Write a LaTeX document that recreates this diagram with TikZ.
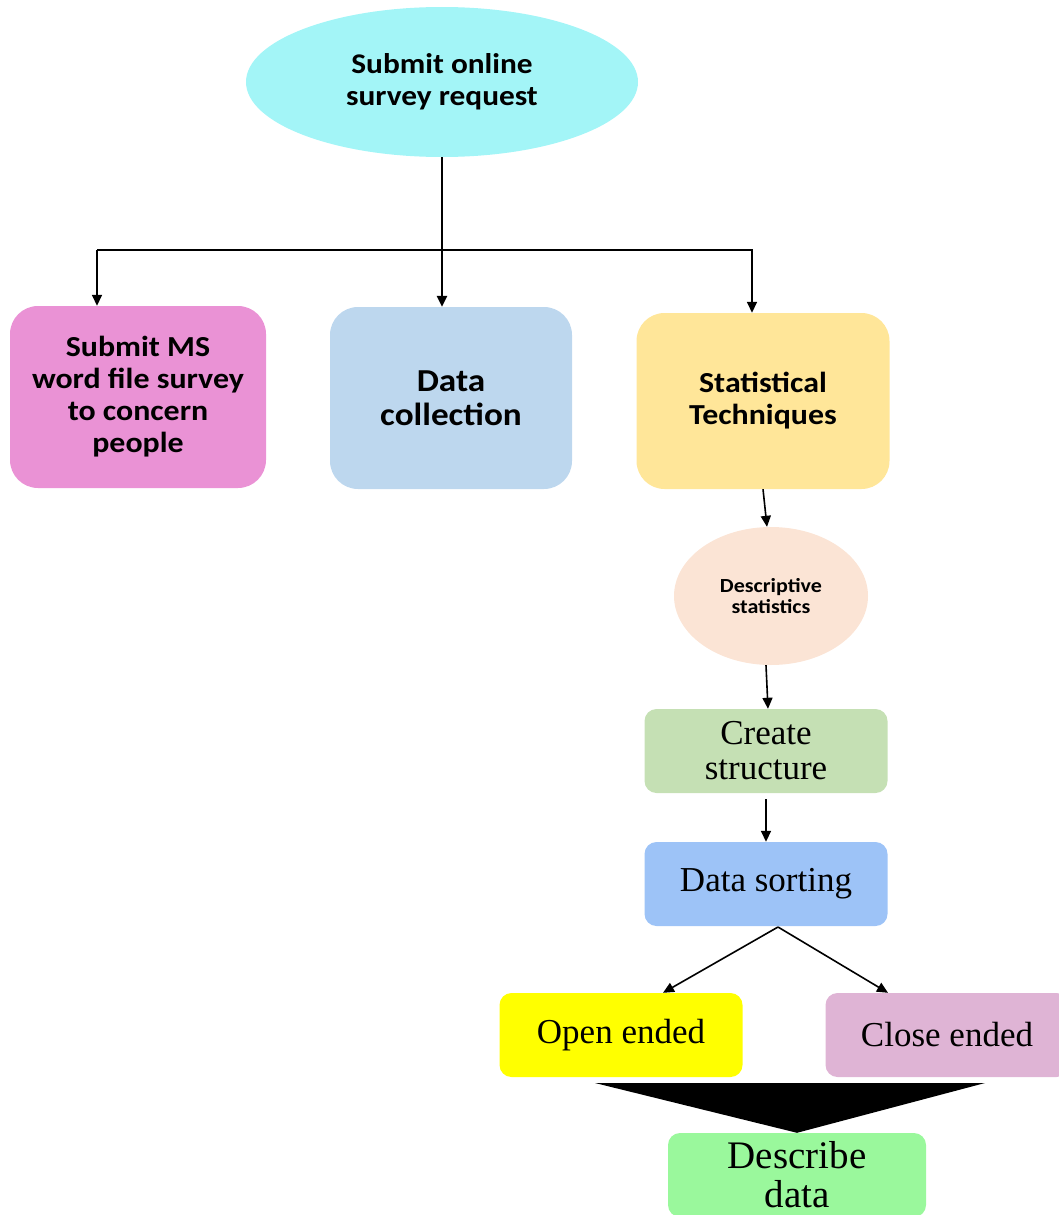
\documentclass[tikz,border=0pt]{standalone}
\usepackage{fontspec}
\setmainfont{Liberation Serif}
\newfontfamily\boxfont[FakeStretch=1.1]{Carlito}
\usetikzlibrary{shapes.geometric,arrows.meta}
\newlength{\du}
\setlength{\du}{1pt}

\begin{document}
\begin{tikzpicture}[x=1\du,y=-1\du]
\definecolor{requestcolor}{RGB}{163,245,247}
\definecolor{mswordcolor}{RGB}{234,146,213}
\definecolor{collectcolor}{RGB}{189,215,238}
\definecolor{statcolor}{RGB}{255,230,153}
\definecolor{descrcolor}{RGB}{251,228,213}
\definecolor{structcolor}{RGB}{197,224,180}
\definecolor{sortcolor}{RGB}{157,195,247}
\definecolor{opencolor}{RGB}{255,255,0}
\definecolor{closecolor}{RGB}{223,180,213}
\definecolor{describecolor}{RGB}{154,248,156}
\tikzset{
  sansbox/.style={rounded corners=28\du,inner sep=0pt,align=center,
    font=\boxfont\bfseries\fontsize{29}{32}\selectfont},
  serifbox/.style={rounded corners=12\du,inner sep=0pt,align=center,
    minimum width=243\du,minimum height=84\du,
    font=\fontsize{35}{35}\selectfont},
  conn/.style={line width=1.6pt,-{Triangle[length=11pt,width=10pt]}},
}
\useasboundingbox (0,0) rectangle (1058,1215);

\node[ellipse,fill=requestcolor,inner sep=0pt,minimum width=392\du,minimum height=150\du,align=center,
  font=\boxfont\bfseries\fontsize{28.5}{32}\selectfont] (request) at (442,82) {Submit online\\survey request};
\node[sansbox,fill=mswordcolor,minimum width=256\du,minimum height=182\du] (msword) at (138,397)
  {Submit MS\\word file survey\\to concern\\people};
\node[sansbox,fill=collectcolor,minimum width=242\du,minimum height=182\du,
  font=\boxfont\bfseries\fontsize{32}{34}\selectfont] (collect) at (451,398) {Data\\collection};
\node[sansbox,fill=statcolor,minimum width=253\du,minimum height=176\du] (stattech) at (763,401)
  {Statistical\\Techniques};
\node[ellipse,fill=descrcolor,inner sep=0pt,minimum width=194\du,minimum height=138\du,align=center,
  font=\boxfont\bfseries\fontsize{20}{21}\selectfont] (descr) at (771,596) {Descriptive\\statistics};
\node[serifbox,fill=structcolor] (structure) at (766,751) {Create\\structure};
\node[serifbox,fill=sortcolor] (sorting) at (766,884) {Data sorting};
\node[serifbox,fill=opencolor] (openend) at (621,1035) {Open ended};
\node[serifbox,fill=closecolor] (closeend) at (947,1035) {Close ended};
\node[serifbox,fill=describecolor,minimum width=258\du,
  font=\fontsize{39}{39}\selectfont] (describe) at (797,1175) {Describe\\data};

\coordinate (lefttop) at (97,250);
\coordinate (righttop) at (752,250);
\coordinate (fork) at (778,927);

\draw[conn,line width=2.6pt] (request.south) -- (request.south |- collect.north);
\draw[conn] (lefttop) -- (lefttop |- msword.north);
\draw[conn] (lefttop) -- (righttop) -- (righttop |- stattech.north);
\draw[conn] (stattech.south) -- ([xshift=-4pt]descr.north);
\draw[conn] ([xshift=-5pt]descr.south) -- ([xshift=2pt]structure.north);
\draw[conn,shorten <=6pt] (structure.south) -- (sorting.north);
\draw[conn] (fork) -- ([xshift=42pt]openend.north);
\draw[conn] (fork) -- ([xshift=-59pt]closeend.north);
\fill (595,1083) -- (985,1083) -- (describe.north) -- cycle;
\end{tikzpicture}
\end{document}
